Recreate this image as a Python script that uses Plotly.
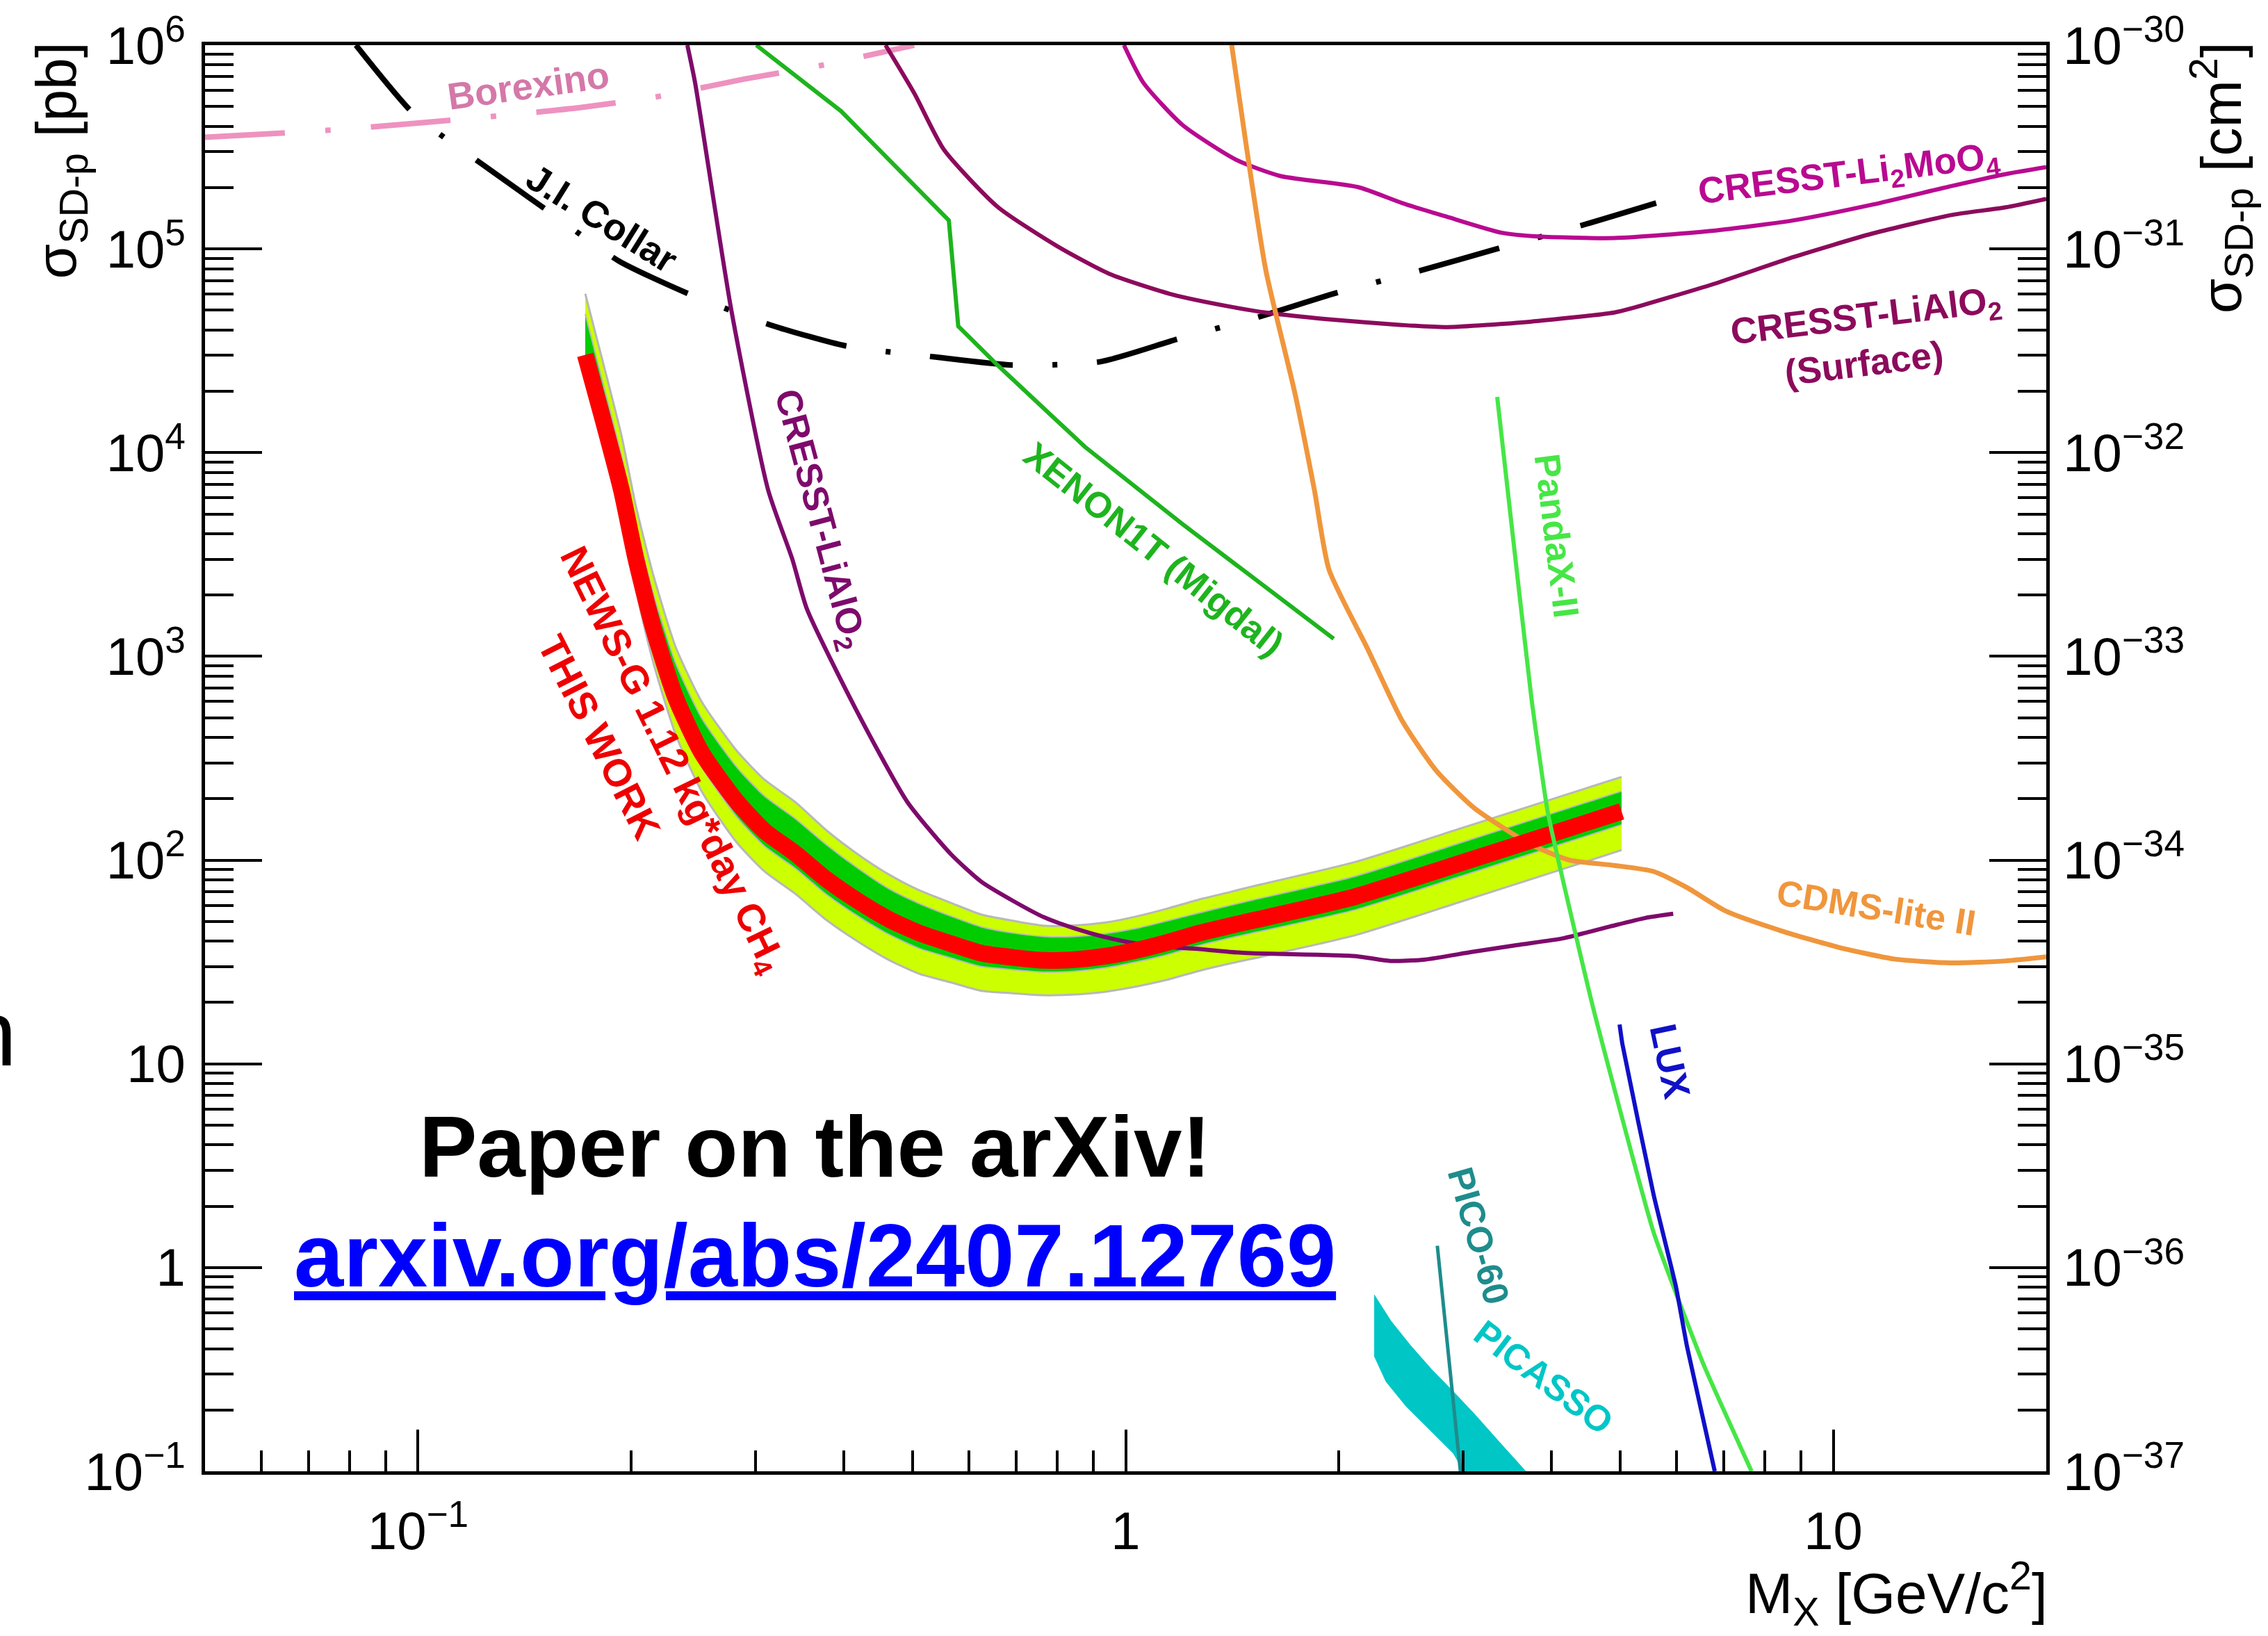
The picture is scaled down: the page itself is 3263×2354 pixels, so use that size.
import math
import plotly.graph_objects as go

# ================= data =================
# x: WIMP mass M_X in GeV/c^2, y: sigma_SD-p in pb
borexino_x = [0.05, 0.0743, 0.0988, 0.1275, 0.1696, 0.2185, 0.2886, 0.3717, 0.5024]
borexino_y = [3.53e5, 3.82e5, 4.13e5, 4.47e5, 4.94e5, 5.60e5, 6.81e5, 7.96e5, 1.0e6]

collar_x = [0.0817, 0.0988, 0.1233, 0.1528, 0.1925, 0.2424, 0.315, 0.4024, 0.5362,
            0.691, 0.919, 1.184, 1.553, 1.982, 2.618, 3.344, 4.395, 5.62]
collar_y = [1.0e6, 4.57e5, 2.60e5, 1.53e5, 8.69e4, 5.97e4, 4.23e4, 3.34e4, 2.95e4,
            2.69e4, 2.79e4, 3.61e4, 4.67e4, 6.07e4, 7.85e4, 1.0e5, 1.30e5, 1.68e5]

lialo2_x = [0.2402, 0.2463, 0.277, 0.3124, 0.338, 0.3545, 0.4153, 0.4911, 0.5662, 0.6256,
            0.6925, 0.7667, 0.847, 0.9376, 1.038, 1.147, 1.270, 1.406, 1.504, 2.112,
            2.365, 2.648, 3.083, 3.578, 4.164, 4.844, 5.424, 5.94]
lialo2_y = [1.0e6, 6.55e5, 5.06e4, 6560, 3000, 1706, 553, 193.6, 107, 78.2,
            63.2, 52.4, 46.2, 41.8, 38.9, 37.4, 36.6, 35.4, 34.9, 33.8,
            32.0, 32.5, 35.4, 38.3, 41.4, 47.3, 52.0, 54.5]

surface_x = [0.4578, 0.503, 0.5535, 0.659, 0.797, 0.948, 1.165, 1.412, 1.578, 1.938, 2.458,
             2.84, 3.727, 4.90, 5.221, 6.77, 8.78, 11.36, 14.74, 17.54, 20.0]
surface_y = [1.0e6, 5.78e5, 3.07e5, 1.61e5, 1.04e5, 7.55e4, 5.97e4, 5.19e4, 4.87e4, 4.51e4, 4.23e4,
             4.13e4, 4.39e4, 4.87e4, 5.14e4, 6.72e4, 9.12e4, 1.19e5, 1.47e5, 1.60e5, 1.76e5]

limoo_x = [0.9945, 1.059, 1.203, 1.435, 1.654, 2.131, 2.458, 2.84, 3.40, 3.83, 4.90,
           6.77, 8.78, 11.36, 14.74, 17.54, 20.0]
limoo_y = [1.0e6, 6.55e5, 4.06e5, 2.73e5, 2.28e5, 2.01e5, 1.68e5, 1.44e5, 1.20e5, 1.15e5, 1.13e5,
           1.228e5, 1.38e5, 1.65e5, 2.04e5, 2.33e5, 2.52e5]

xenon_x = [0.3006, 0.396, 0.5625, 0.580, 0.659, 0.876, 1.205, 1.968]
xenon_y = [1.0e6, 4.75e5, 1.38e5, 4.17e4, 2.69e4, 1.067e4, 4440, 1219]

cdms_x = [1.412, 1.481, 1.578, 1.735, 1.848, 1.938, 2.199, 2.458, 2.747, 3.11, 3.727, 4.24,
          4.90, 5.574, 6.214, 7.05, 8.47, 10.15, 12.19, 14.64, 17.54, 20.0]
cdms_y = [1.0e6, 3.19e5, 7.85e4, 1.95e4, 6560, 2668, 1084, 484, 275, 180, 120, 100,
          94.2, 87.9, 73.3, 56.2, 44.8, 37.4, 32.7, 31.3, 32.0, 33.5]

pandax_x = [3.35, 3.466, 3.744, 3.952, 4.577, 5.574, 6.56, 7.665]
pandax_y = [1.876e4, 6560, 627, 169.6, 18.9, 1.486, 0.333, 0.1]

lux_x = [4.989, 5.035, 5.574, 5.99, 6.214, 6.80]
lux_y = [15.6, 12.5, 2.27, 0.813, 0.409, 0.1]

pico_x = [2.757, 2.972]
pico_y = [1.28, 0.1]

picasso_upper_x = [2.245, 2.371, 2.526, 2.709, 2.906, 3.124, 3.350, 3.676]
picasso_upper_y = [0.735, 0.546, 0.415, 0.315, 0.2455, 0.188, 0.143, 0.1]
picasso_lower_x = [2.245, 2.333, 2.491, 2.709, 2.906, 3.006]
picasso_lower_y = [0.369, 0.276, 0.2084, 0.156, 0.1222, 0.1]

# NEWS-G (this work): observed limit and expected 1 sigma / 2 sigma bands
newsg_x = [0.1723, 0.1827, 0.1938, 0.2032, 0.2151, 0.2312, 0.2519, 0.2821, 0.3088, 0.3411,
           0.3777, 0.418, 0.463, 0.5114, 0.5662, 0.6256, 0.6925, 0.7667, 0.847, 0.9376,
           1.038, 1.147, 1.270, 1.406, 1.504, 2.112, 2.965, 4.164, 5.022]
newsg_y = [30200, 14350, 6560, 3000, 1371, 627, 335, 194, 139, 108,
           80.5, 63.2, 51.2, 43.8, 38.9, 34.9, 33.3, 32.2, 32.5, 33.8,
           36.2, 39.5, 43.8, 47.7, 50.3, 66.2, 96.4, 140.6, 173.4]
yellow_hi = [6.03e4, 2.74e4, 1.22e4, 5458, 2495, 1114, 596, 344, 248, 193,
             140, 107, 84.9, 71.0, 61.7, 54.0, 50.4, 47.6, 47.8, 49.4,
             53.0, 57.9, 64.1, 69.8, 74.0, 98.0, 142.6, 208, 256]
green_hi = [4.79e4, 2.17e4, 9705, 4436, 2028, 927, 495, 286, 206, 160,
            119, 91.4, 72.3, 61.1, 53.1, 47.0, 43.9, 42.2, 42.2, 43.6,
            46.3, 50.4, 55.1, 60.0, 63.4, 83.4, 121.3, 177, 218]
green_lo = [2.75e4, 1.28e4, 5715, 2612, 1167, 533, 285, 163, 117, 91.2,
            67.8, 53.2, 43.1, 36.8, 33.1, 30.0, 29.0, 28.2, 28.5, 29.6,
            31.7, 34.4, 38.1, 41.5, 43.7, 57.0, 83.0, 121, 149]
yellow_lo = [2.40e4, 1.09e4, 4753, 2123, 927, 414, 216, 122, 87.9, 68.4,
             50.8, 39.9, 32.3, 27.6, 25.1, 22.8, 22.2, 21.7, 21.9, 22.6,
             24.0, 25.9, 28.6, 31.1, 32.7, 42.8, 62.2, 90.8, 112]

x_tick_vals = [0.1, 1, 10]
x_tick_text = ["10<sup>\u22121</sup>", "1", "10"]
y_tick_vals = [0.1, 1, 10, 100, 1e3, 1e4, 1e5, 1e6]
y_tick_text = ["10<sup>\u22121</sup>", "1", "10", "10<sup>2</sup>", "10<sup>3</sup>",
               "10<sup>4</sup>", "10<sup>5</sup>", "10<sup>6</sup>"]
y2_exponents = [-37, -36, -35, -34, -33, -32, -31, -30]
y2_tick_vals = [10.0 ** e for e in y2_exponents]
y2_tick_text = ["10<sup>\u2212%d</sup>" % abs(e) for e in y2_exponents]

# ================= style =================
W, H = 3263, 2354
ML, MR, MT, MB = 295, 319, 58, 237
FONT = "Liberation Sans, Arial, Helvetica, sans-serif"

C_BOREX_LINE = "#EE92C0"
C_BOREX_TXT = "#D478A8"
C_LIALO2 = "#7E0A6C"
C_SURF = "#8C0A5C"
C_LIMOO = "#B80A90"
C_XENON = "#1EB41E"
C_CDMS = "#F0963C"
C_PANDA = "#46E646"
C_LUX = "#1010C8"
C_PICO = "#1E8C8C"
C_PICASSO = "#00C6C6"
C_YELLOW = "#CCFF00"
C_GREEN = "#00CC00"
C_EDGE = "#B8B8B8"

fig = go.Figure()


def line(x, y, color, width, dash="solid", shape="spline", smoothing=0.6):
    fig.add_trace(go.Scatter(x=x, y=y, mode="lines", hoverinfo="skip", showlegend=False,
                             line=dict(color=color, width=width, dash=dash, shape=shape,
                                       smoothing=smoothing)))


def band_edge(y, width, fill=None):
    kw = dict(fill=fill, fillcolor=fill and {"y": C_YELLOW, "g": C_GREEN}[fill_kind[0]]) if fill else {}
    return kw


# background curves
line(borexino_x, borexino_y, C_BOREX_LINE, 8, dash="115px,58px,8px,58px")
line(collar_x, collar_y, "black", 8, dash="120px,57px,7px,57px")
line(surface_x, surface_y, C_SURF, 6)
line(limoo_x, limoo_y, C_LIMOO, 6)
line(xenon_x, xenon_y, C_XENON, 6, shape="linear")

# NEWS-G expected bands (2 sigma yellow, 1 sigma green)
for lo, hi, col, ew in ((yellow_lo, yellow_hi, C_YELLOW, 3), (green_lo, green_hi, C_GREEN, 2)):
    fig.add_trace(go.Scatter(x=newsg_x, y=lo, mode="lines", hoverinfo="skip", showlegend=False,
                             line=dict(color=C_EDGE, width=ew, shape="spline", smoothing=0.6)))
    fig.add_trace(go.Scatter(x=newsg_x, y=hi, mode="lines", hoverinfo="skip", showlegend=False,
                             fill="tonexty", fillcolor=col,
                             line=dict(color=C_EDGE, width=ew, shape="spline", smoothing=0.6)))

line(lialo2_x, lialo2_y, C_LIALO2, 6)
line(cdms_x, cdms_y, C_CDMS, 7)

# NEWS-G observed limit
line(newsg_x, newsg_y, "#FF0000", 24)

# foreground curves
line(pandax_x, pandax_y, C_PANDA, 6, shape="spline", smoothing=0.4)
line(lux_x, lux_y, C_LUX, 6, shape="spline", smoothing=0.4)
fig.add_trace(go.Scatter(x=picasso_upper_x + picasso_lower_x[::-1],
                         y=picasso_upper_y + picasso_lower_y[::-1],
                         mode="lines", fill="toself", fillcolor=C_PICASSO, hoverinfo="skip",
                         showlegend=False, line=dict(color=C_PICASSO, width=1)))
line(pico_x, pico_y, C_PICO, 5, shape="linear")

# secondary (cm^2) axis carrier
fig.add_trace(go.Scatter(x=[], y=[], yaxis="y2", mode="lines", showlegend=False, hoverinfo="skip"))

# ================= axes =================
x_minor = [m * 10.0 ** d for d in (-2, -1, 0, 1) for m in range(2, 10)]
y_minor = [m * 10.0 ** d for d in range(-1, 6) for m in range(2, 10)]
y2_minor = [m * 10.0 ** d for d in range(-37, -30) for m in range(2, 10)]

axis_common = dict(showgrid=False, zeroline=False, showline=True, linecolor="black", linewidth=5,
                   ticks="inside", tickcolor="black", tickwidth=4,
                   tickfont=dict(family=FONT, size=76, color="black"))

fig.update_layout(
    width=W, height=H,
    margin=dict(l=ML, r=MR, t=MT, b=MB, pad=0),
    paper_bgcolor="white", plot_bgcolor="white",
    showlegend=False,
    font=dict(family=FONT, color="black"),
    xaxis=dict(type="log", range=[math.log10(0.05), math.log10(20)],
               tickmode="array", tickvals=x_tick_vals, ticktext=x_tick_text,
               ticklen=60, mirror=True, ticklabelstandoff=16,
               minor=dict(ticks="inside", ticklen=30, tickwidth=4, tickcolor="black",
                          tickmode="array", tickvals=x_minor, showgrid=False),
               **axis_common),
    yaxis=dict(type="log", range=[-1, 6],
               tickmode="array", tickvals=y_tick_vals, ticktext=y_tick_text,
               ticklen=82, ticklabelstandoff=8,
               minor=dict(ticks="inside", ticklen=41, tickwidth=4, tickcolor="black",
                          tickmode="array", tickvals=y_minor, showgrid=False),
               **axis_common),
    yaxis2=dict(type="log", range=[-37, -30], overlaying="y", side="right", anchor="x",
                tickmode="array", tickvals=y2_tick_vals, ticktext=y2_tick_text,
                ticklen=82, ticklabelstandoff=4,
                minor=dict(ticks="inside", ticklen=41, tickwidth=4, tickcolor="black",
                           tickmode="array", tickvals=y2_minor, showgrid=False),
                **axis_common),
)

# ================= annotations =================
def px_to_paper_x(px):
    return (px - ML) / (W - ML - MR)


def px_to_paper_y(py):
    return 1 - (py - MT) / (H - MT - MB)


anns = []


def label(text, x, y, angle, color, size=52, bold=True):
    anns.append(dict(text=("<b>%s</b>" % text) if bold else text,
                     x=math.log10(x), y=math.log10(y), xref="x", yref="y",
                     showarrow=False, textangle=angle, xanchor="center", yanchor="middle",
                     font=dict(family=FONT, size=size, color=color)))


label("Borexino", 0.1431, 6.35e5, -8, C_BOREX_TXT, 54)
label("J.I. Collar", 0.182, 1.42e5, 32, "black", 54)
label("CRESST-LiAlO<sub>2</sub>", 0.3685, 4690, 75, C_LIALO2, 52)
label("XENON1T (Migdal)", 1.096, 3373, 38.5, C_XENON, 52)
label("NEWS-G 1.12 kg*day CH<sub>4</sub>", 0.228, 310, 64, "#EE0000", 56)
label("THIS WORK", 0.1803, 401, 63, "#EE0000", 56)
label("CRESST-Li<sub>2</sub>MoO<sub>4</sub>", 10.52, 2.30e5, -7, C_LIMOO, 53)
label("CRESST-LiAlO<sub>2</sub>", 11.14, 4.57e4, -7, C_SURF, 53)
label("(Surface)", 11.06, 2.75e4, -7, C_SURF, 53)
label("PandaX-II", 4.07, 3918, 83, C_PANDA, 52)
label("CDMS-lite II", 11.50, 58.5, 9, C_CDMS, 52)
label("LUX", 5.886, 10.3, 78, C_LUX, 54)
label("PICO-60", 3.153, 1.43, 74, C_PICO, 52)
label("PICASSO", 3.90, 0.289, 37, C_PICASSO, 52)

# axis titles
anns.append(dict(text="\u03c3<sub>SD-p</sub> [pb]", xref="paper", yref="paper",
                 x=px_to_paper_x(86), y=px_to_paper_y(225), textangle=-90,
                 xanchor="center", yanchor="middle", showarrow=False,
                 font=dict(family=FONT, size=82, color="black")))
anns.append(dict(text="\u03c3<sub>SD-p</sub> [cm<sup>2</sup>]", xref="paper", yref="paper",
                 x=px_to_paper_x(3196), y=px_to_paper_y(250), textangle=-90,
                 xanchor="center", yanchor="middle", showarrow=False,
                 font=dict(family=FONT, size=82, color="black")))
anns.append(dict(text="M<sub>X</sub> [GeV/c<sup>2</sup>]", xref="paper", yref="paper",
                 x=px_to_paper_x(2948), y=px_to_paper_y(2294),
                 xanchor="right", yanchor="middle", showarrow=False,
                 font=dict(family=FONT, size=82, color="black")))

# slide text
anns.append(dict(text="<b>Paper on the arXiv!</b>", xref="paper", yref="paper",
                 x=px_to_paper_x(1172), y=px_to_paper_y(1648),
                 xanchor="center", yanchor="middle", showarrow=False,
                 font=dict(family=FONT, size=125, color="black")))
anns.append(dict(text="<b>arxiv.org/abs/2407.12769</b>", xref="paper", yref="paper",
                 x=px_to_paper_x(1172), y=px_to_paper_y(1805),
                 xanchor="center", yanchor="middle", showarrow=False,
                 font=dict(family=FONT, size=128, color="#0000FF", lineposition="under")))
anns.append(dict(text="n", xref="paper", yref="paper",
                 x=px_to_paper_x(26), y=px_to_paper_y(1485),
                 xanchor="right", yanchor="middle", showarrow=False,
                 font=dict(family=FONT, size=133, color="black")))

fig.update_layout(annotations=anns)

fig.write_html("out.html")
